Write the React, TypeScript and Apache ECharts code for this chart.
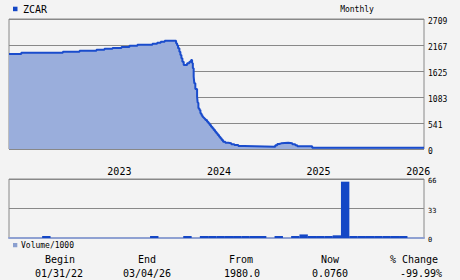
import React, { useEffect, useRef } from "react";
import * as echarts from "echarts";

// Month index axis: 0 = start of Dec 2021, 50 = end of Jan 2026
const monthCount = 50;

// Price path [monthIndex, price] (step 'end')
const pricePoints: [number, number][] = [
  [0, 1980], [1.48, 2005], [6.49, 2028], [8.5, 2049], [10.54, 2069], [11.5, 2090],
  [12.47, 2105], [13.55, 2126], [14.51, 2153], [15.47, 2174], [17.28, 2195],
  [17.85, 2215], [18.28, 2236], [18.76, 2257], [20.13, 2203], [20.25, 2160],
  [20.37, 2099], [20.53, 2028], [20.65, 1959], [20.77, 1890], [20.89, 1820],
  [21.05, 1751], [21.46, 1786], [21.73, 1820], [21.94, 1855], [22.06, 1790],
  [22.15, 1682], [22.25, 1507], [22.33, 1369], [22.45, 1250], [22.66, 1090],
  [22.73, 965], [22.82, 848], [22.94, 813], [23.06, 744], [23.18, 709],
  [23.3, 673], [23.42, 652], [23.54, 632], [23.66, 604], [23.86, 569],
  [24.02, 535], [24.18, 500], [24.34, 465], [24.5, 431], [24.66, 396],
  [24.83, 361], [24.98, 327], [25.14, 292], [25.31, 256], [25.46, 223],
  [25.62, 188], [25.79, 152], [26.06, 131], [26.42, 118], [26.78, 98],
  [27.15, 83], [27.63, 62], [28.35, 48], [32.08, 76], [32.32, 104],
  [32.56, 118], [32.8, 131], [33.64, 118], [34.13, 98], [34.49, 76],
  [34.73, 55], [36.53, 27], [50, 27],
];

// Monthly volume (thousands), one per month index 0..49
const volumeValues: (number | null)[] = [
  null, null, null, null, 0.4, null, null, null, null, null,
  null, null, null, null, null, null, null, 0.4, null, null,
  null, 0.4, null, 0.4, 0.4, 0.4, 0.4, 0.4, 0.4, 0.4,
  0.4, null, 0.4, null, 0.8, 4, 0.4, 0.4, 0.4, 3,
  63, 0.4, 0.4, 0.4, 0.4, 0.4, 0.4, 0.4, null, null,
];

const priceTickLabels = ["0", "541", "1083", "1625", "2167", "2709"];
const priceMax = 2709;
const volumeMax = 66;
const yearLabels = ["2023", "2024", "2025", "2026"];
const yearPositions = [13.3, 25.3, 37.3, 49.3];

const statLabels = ["Begin", "End", "From", "Now", "% Change"];
const statValues = ["01/31/22", "03/04/26", "1980.0", "0.0760", "-99.99%"];

const FONT = "DejaVu Sans Mono";
const DARK = "#1447c6";

export default function App() {
  const ref = useRef<HTMLDivElement>(null);

  useEffect(() => {
    document.body.style.margin = "0";
    document.body.style.background = "#f3f3f3";
    if (!ref.current) return;
    const chart = echarts.init(ref.current, null, { renderer: "svg" });

    const volumeData = volumeValues
      .map((v, k) => (v == null ? null : [k + 0.5, v]))
      .filter((d) => d != null);

    const labelCenters1 = [60, 147, 241, 330, 414];
    const labelCenters2 = [59, 147, 242, 330, 421];

    const graphics: any[] = [
      { type: "rect", shape: { x: 13, y: 6.7, width: 4.5, height: 4.5 }, style: { fill: DARK } },
      { type: "text", x: 23, y: 9.5, style: { text: "ZCAR", font: `10px '${FONT}'`, fill: "#000", verticalAlign: "middle" } },
      { type: "text", x: 357, y: 9.5, style: { text: "Monthly", font: `8px '${FONT}'`, fill: "#000", align: "center", verticalAlign: "middle" } },
      { type: "rect", shape: { x: 13, y: 243, width: 4.3, height: 4.3 }, style: { fill: "#8a9fcf" } },
      { type: "text", x: 21, y: 245.5, style: { text: "Volume/1000", font: `8px '${FONT}'`, fill: "#000", verticalAlign: "middle" } },
    ];
    statLabels.forEach((t, i) => {
      graphics.push({ type: "text", x: labelCenters1[i], y: 259.5, style: { text: t, font: `10px '${FONT}'`, fill: "#000", align: "center", verticalAlign: "middle" } });
    });
    statValues.forEach((t, i) => {
      graphics.push({ type: "text", x: labelCenters2[i], y: 273, style: { text: t, font: `10px '${FONT}'`, fill: "#000", align: "center", verticalAlign: "middle" } });
    });

    chart.setOption({
      animation: false,
      backgroundColor: "#f3f3f3",
      textStyle: { fontFamily: FONT },
      grid: [
        { left: 9, top: 19, width: 415, height: 130, show: true, borderColor: "#888", borderWidth: 1, backgroundColor: "transparent" },
        { left: 9, top: 179, width: 415, height: 59, show: true, borderColor: "#888", borderWidth: 1, backgroundColor: "transparent" },
      ],
      xAxis: [
        { type: "value", gridIndex: 0, min: 0, max: monthCount, axisLine: { show: false }, axisTick: { show: false }, axisLabel: { show: false }, splitLine: { show: false } },
        { type: "value", gridIndex: 1, min: 0, max: monthCount, position: "bottom", offset: 1, axisLine: { show: true, lineStyle: { color: "#8fa1d2", width: 2 } }, axisTick: { show: false }, axisLabel: { show: false }, splitLine: { show: false } },
        {
          type: "value", gridIndex: 1, min: 0, max: monthCount, position: "top",
          axisLine: { show: false }, axisTick: { show: false }, splitLine: { show: false },
          axisLabel: {
            show: true, customValues: yearPositions, margin: 3, fontSize: 10, color: "#000", fontFamily: FONT,
            formatter: (v: number) => {
              let best = 0;
              yearPositions.forEach((p, i) => { if (Math.abs(p - v) < Math.abs(yearPositions[best] - v)) best = i; });
              return yearLabels[best];
            },
          },
        },
      ],
      yAxis: [
        {
          type: "value", gridIndex: 0, position: "right", min: 0, max: priceMax, interval: priceMax / 5,
          axisLine: { show: false }, axisTick: { show: false },
          splitLine: { show: true, lineStyle: { color: "#888", width: 1 } },
          axisLabel: {
            margin: 4, color: "#000",
            formatter: (v: number) => `{t|${priceTickLabels[Math.round(v / (priceMax / 5))]}}`,
            rich: { t: { fontSize: 8, fontFamily: FONT, color: "#000", padding: [4, 0, 0, 0] } },
          },
        },
        {
          type: "value", gridIndex: 1, position: "right", min: 0, max: volumeMax, interval: 33,
          axisLine: { show: false }, axisTick: { show: false },
          splitLine: { show: true, lineStyle: { color: "#888", width: 1 } },
          axisLabel: {
            margin: 4, color: "#000",
            formatter: (v: number) => `{t|${v}}`,
            rich: { t: { fontSize: 7, fontFamily: FONT, color: "#000", padding: [4, 0, 0, 0] } },
          },
        },
      ],
      series: [
        {
          type: "line", xAxisIndex: 0, yAxisIndex: 0, data: pricePoints, step: "end",
          symbol: "none", lineStyle: { color: "#1a4ccc", width: 2 },
          areaStyle: { color: "#9aaedc", opacity: 1 },
        },
        {
          type: "bar", xAxisIndex: 1, yAxisIndex: 1, data: volumeData, barWidth: 8.4,
          barMinHeight: 2, itemStyle: { color: DARK },
        },
      ],
      graphic: graphics,
    });

    return () => chart.dispose();
  }, []);

  return (
    <div
      ref={ref}
      style={{ position: "fixed", left: 0, top: 0, width: 460, height: 280 }}
    />
  );
}
